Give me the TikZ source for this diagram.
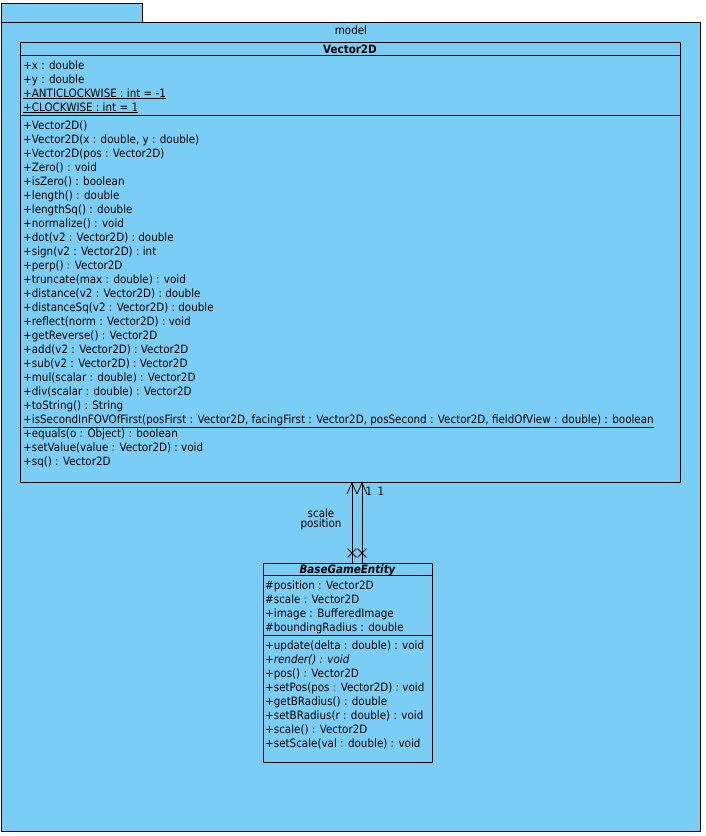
\documentclass[tikz,border=0pt]{standalone}
\usepackage{fontspec}
\setmainfont{DejaVu Sans}[FakeStretch = 0.9]
\usetikzlibrary{arrows.meta,shapes.misc}
\definecolor{pkgblue}{RGB}{122,206,245}

\begin{document}
\begin{tikzpicture}[
        x = 1pt, y = -1pt,
        box/.style = {draw, line width = 0.8pt, fill = pkgblue, inner sep = 0pt},
        sep/.style = {draw, line width = 0.8pt},
        txt/.style = {anchor = base west, inner sep = 0pt, font = \fontsize{11.5}{14}\selectfont},
        ttl/.style = {anchor = base, inner sep = 0pt, font = \fontsize{11.5}{14}\selectfont\bfseries},
        arr/.style = {draw, line width = 0.8pt, -{Straight Barb[length = 11pt, width = 10pt, line width = 0.8pt]}},
        nav/.style = {cross out, draw, line width = 0.8pt, minimum size = 8pt, inner sep = 0pt},
    ]
    \useasboundingbox (0,0) rectangle (706,836);

    % package
    \node (tab) [box, minimum width = 141pt, minimum height = 19pt] at (71.5, 12.5) {};
    \node (pkg) [box, minimum width = 699pt, minimum height = 809pt] at (350.5, 426.5) {};
    \node (pkgname) [txt, anchor = base] at (351, 34) {model};

    % Vector2D
    \node (vec) [box, minimum width = 660pt, minimum height = 440pt] at (350, 262) {};
    \node (vecname) [ttl] at (350, 53) {Vector2D};
    \path[sep] (vec.north west) ++(0,14) -- ++(660,0);
    \path[sep] (vec.north west) ++(0,74) -- ++(660,0);
    \foreach \t [count = \i] in {+x : double, +y : double,
            \underline{+ANTICLOCKWISE : int = -1}, \underline{+CLOCKWISE : int = 1}}
        \node (vatt\i) [txt] at (23, 55 + 14*\i) {\t};
    \foreach \t [count = \i] in {+Vector2D(), {+Vector2D(x : double, y : double)},
            +Vector2D(pos : Vector2D), +Zero() : void, +isZero() : boolean,
            +length() : double, +lengthSq() : double, +normalize() : void,
            +dot(v2 : Vector2D) : double, +sign(v2 : Vector2D) : int,
            +perp() : Vector2D, +truncate(max : double) : void,
            +distance(v2 : Vector2D) : double, +distanceSq(v2 : Vector2D) : double,
            +reflect(norm : Vector2D) : void, +getReverse() : Vector2D,
            +add(v2 : Vector2D) : Vector2D, +sub(v2 : Vector2D) : Vector2D,
            +mul(scalar : double) : Vector2D, +div(scalar : double) : Vector2D,
            +toString() : String,
            {\underline{+isSecondInFOVOfFirst(posFirst : Vector2D, facingFirst : Vector2D, posSecond : Vector2D, fieldOfView : double) : boolean}},
            +equals(o : Object) : boolean, +setValue(value : Vector2D) : void,
            +sq() : Vector2D}
        \node (vop\i) [txt] at (23, 115 + 14*\i) {\t};

    % BaseGameEntity
    \node (bge) [box, minimum width = 169pt, minimum height = 199pt] at (347.5, 662.5) {};
    \node (bgename) [ttl, font = \fontsize{11.5}{14}\selectfont\bfseries\itshape] at (347.5, 573) {BaseGameEntity};
    \path[sep] (bge.north west) ++(0,13) -- ++(169,0);
    \path[sep] (bge.north west) ++(0,73) -- ++(169,0);
    \foreach \t [count = \i] in {\#position : Vector2D, \#scale : Vector2D,
            +image : BufferedImage, \#boundingRadius : double}
        \node (batt\i) [txt] at (265, 575 + 14*\i) {\t};
    \foreach \t [count = \i] in {+update(delta : double) : void, \textit{+render() : void},
            +pos() : Vector2D, +setPos(pos : Vector2D) : void, +getBRadius() : double,
            +setBRadius(r : double) : void, +scale() : Vector2D, +setScale(val : double) : void}
        \node (bop\i) [txt] at (265, 635 + 14*\i) {\t};

    % associations
    \coordinate (postop) at (352, 482);
    \coordinate (posbot) at (352, 563);
    \coordinate (scltop) at (362, 482);
    \coordinate (sclbot) at (362, 563);
    \path[arr] (posbot) -- (postop);
    \path[arr] (sclbot) -- (scltop);
    \node (xpos) [nav] at (352, 553) {};
    \node (xscl) [nav] at (362, 553) {};
    \node (sclname) [txt, anchor = base] at (321, 517) {scale};
    \node (posname) [txt, anchor = base] at (321, 527) {position};
    \node (posmult) [txt, anchor = base] at (369, 495) {1};
    \node (sclmult) [txt, anchor = base] at (381, 495) {1};
\end{tikzpicture}
\end{document}
